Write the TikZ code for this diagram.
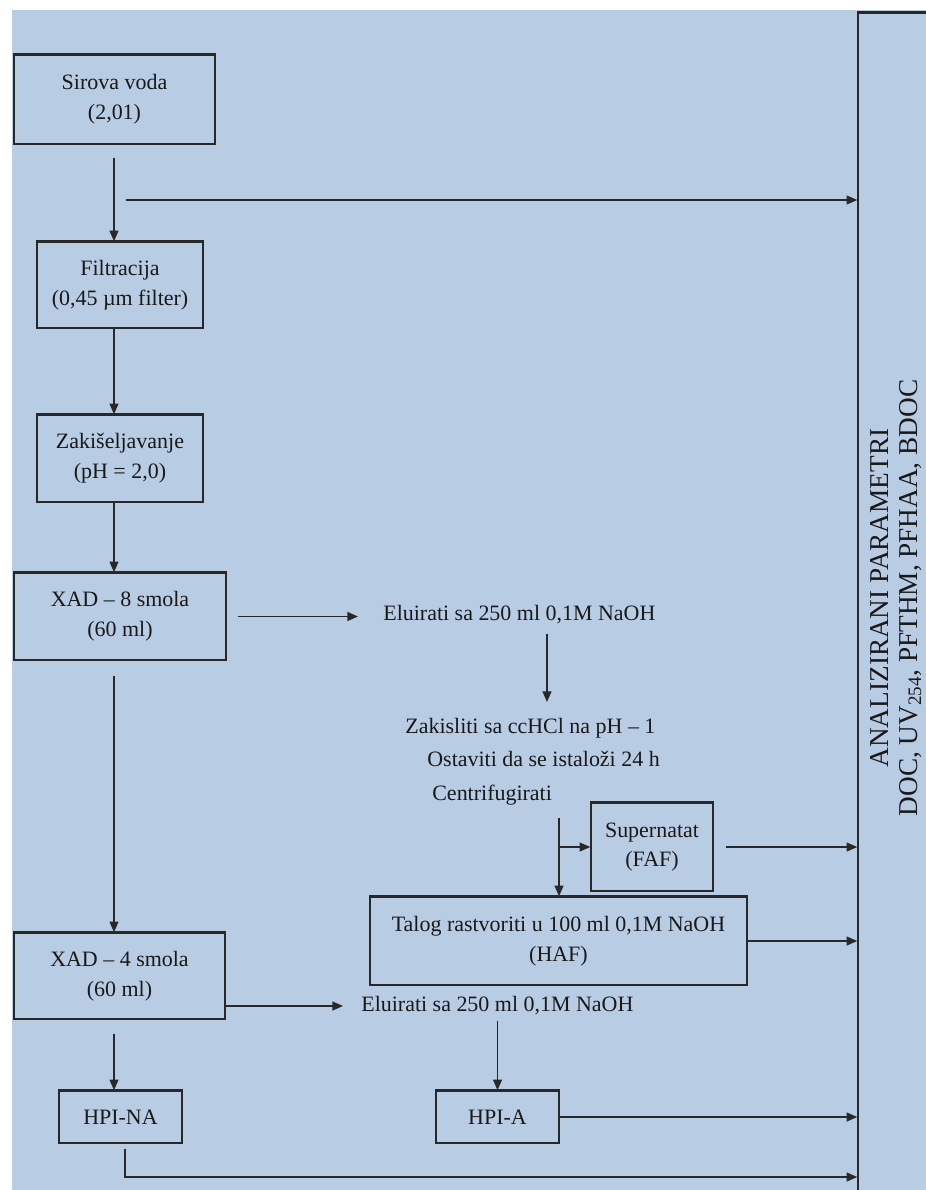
\documentclass[tikz,border=0pt]{standalone}
\usepackage{fontspec}
\setmainfont{Liberation Serif}
\usepackage{tikz}
\usetikzlibrary{arrows.meta,positioning,calc}
\definecolor{panelblue}{RGB}{184,204,228}
\definecolor{linegray}{RGB}{40,40,40}
\definecolor{textgray}{RGB}{25,25,25}

\begin{document}
\begin{tikzpicture}[
    x=0.02cm, y=-0.02cm,
    stage/.style args={#1/#2}{
      rectangle,
      draw=linegray,
      line width=0.85pt,
      minimum width=#1,
      minimum height=#2,
      inner sep=1pt,
      align=center,
      text=textgray,
      font=\fontsize{12.5}{17}\selectfont,
      append after command={(\tikzlastnode.north west) edge[draw=linegray, line width=2pt] (\tikzlastnode.north east)}
    },
    note/.style={anchor=west, inner sep=0pt, text=textgray, font=\fontsize{12.5}{19}\selectfont},
    arrow/.style={-{Triangle[length=6pt,width=5pt]}, line width=0.85pt, draw=linegray}
  ]
    \useasboundingbox (0,0) rectangle (926,1190);
    \fill[panelblue] (12,10) rectangle (926,1190);

    \node[stage=4.02cm/1.78cm] (sirova) at (114.5,99.5) {Sirova voda\\(2,01)};
    \node[stage=3.32cm/1.72cm] (filtr) at (120,285) {Filtracija\\(0,45 µm filter)};
    \node[stage=3.32cm/1.74cm] (zakis) at (120,458.5) {Zakišeljavanje\\(pH = 2,0)};
    \node[stage=4.24cm/1.74cm] (xad8) at (120,616.5) {XAD – 8 smola\\(60 ml)};
    \node[note] (elu1) at (383,615) {Eluirati sa 250 ml 0,1M NaOH};
    \node[note, anchor=north west, align=left] (proc) at (405,718) {Zakisliti sa ccHCl na pH – 1\\\hspace*{0.44cm}Ostaviti da se istaloži 24 h\\\hspace*{0.54cm}Centrifugirati};
    \node[stage=2.44cm/1.76cm] (super) at (652,847) {Supernatat\\(FAF)};
    \node[stage=7.54cm/1.76cm] (talog) at (558.5,941) {Talog rastvoriti u 100 ml 0,1M NaOH\\(HAF)};
    \node[stage=4.22cm/1.72cm] (xad4) at (119.5,976) {XAD – 4 smola\\(60 ml)};
    \node[note] (elu2) at (361,1006) {Eluirati sa 250 ml 0,1M NaOH};
    \node[stage=2.46cm/1.04cm] (hpina) at (120.5,1117) {HPI-NA};
    \node[stage=2.46cm/1.04cm] (hpia) at (497.5,1117) {HPI-A};
    \node[stage=1.56cm/23.74cm, font=\fontsize{15.5}{16.5}\selectfont] (an) at (897,606.5)
      {\rotatebox{90}{\hspace*{0.34cm}\begin{tabular}{@{}c@{}}ANALIZIRANI PARAMETRI\\DOC, UV\textsubscript{254}, PFTHM, PFHAA, BDOC\end{tabular}}};

    \coordinate (col) at (114,0);
    \coordinate (tap) at (126,200);
    \coordinate (drop) at (547,0);
    \coordinate (split) at (559,818);
    \coordinate (bend) at (125,1177);

    \draw[arrow, shorten <=0.26cm] (col |- sirova.south) -- (col |- filtr.north);
    \draw[arrow] (tap) -- (tap -| an.west);
    \draw[arrow] (col |- filtr.south) -- (col |- zakis.north);
    \draw[arrow] (col |- zakis.south) -- (col |- xad8.north);
    \draw[arrow, shorten <=0.3cm] (col |- xad8.south) -- (col |- xad4.north);
    \draw[arrow, shorten <=0.22cm, shorten >=0.5cm] (xad8.east) -- (xad8.east -| elu1.west);
    \draw[arrow, shorten <=0.18cm, shorten >=0.32cm] (drop |- elu1.south) -- (drop |- proc.north);
    \draw[arrow] (split) -- (split |- talog.north);
    \draw[arrow] (split |- super.west) -- (super.west);
    \draw[arrow, shorten <=0.24cm] (super.east) -- (super.east -| an.west);
    \draw[arrow] (talog.east) -- (talog.east -| an.west);
    \draw[arrow, shorten >=0.36cm] (xad4.east |- elu2.west) -- (elu2.west);
    \draw[arrow, shorten <=0.28cm] (col |- xad4.south) -- (col |- hpina.north);
    \draw[arrow, shorten <=0.1cm] (hpia.north |- elu2.south) -- (hpia.north);
    \draw[arrow] (hpia.east) -- (hpia.east -| an.west);
    \draw[arrow, shorten <=0.1cm] (bend |- hpina.south) -- (bend) -- (bend -| an.west);
  \end{tikzpicture}
\end{document}
